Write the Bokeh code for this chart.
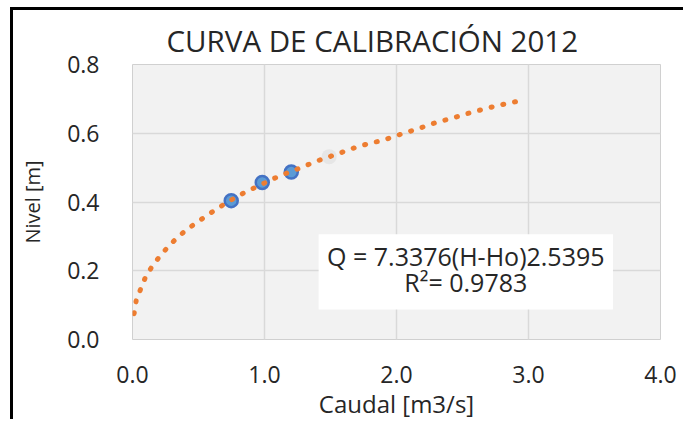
from bokeh.plotting import figure
from bokeh.models import FixedTicker, BoxAnnotation, Label, NumeralTickFormatter
from bokeh.embed import file_html
from bokeh.resources import INLINE

# Measured data (Caudal [m3/s], Nivel [m])
caudal = [0.748, 0.983, 1.203]
nivel = [0.404, 0.457, 0.487]

# faint (hidden) point visible in the picture
caudal_oculto = [1.49]
nivel_oculto = [0.532]

# Trendline
tend_caudal = [0.012, 0.028, 0.061, 0.099, 0.149, 0.207, 0.268, 0.334, 0.409, 0.485,
               0.561, 0.642, 0.718, 0.793, 0.877, 0.958, 1.039, 1.122, 1.21, 1.29,
               1.375, 1.463, 1.547, 1.632, 1.716, 1.80, 1.893, 2.0, 2.08, 2.17,
               2.25, 2.335, 2.416, 2.50, 2.59, 2.68, 2.77, 2.858, 2.95]
tend_nivel = [0.075, 0.113, 0.146, 0.182, 0.213, 0.242, 0.269, 0.295, 0.319, 0.340,
              0.360, 0.381, 0.399, 0.416, 0.433, 0.447, 0.463, 0.477, 0.490, 0.502,
              0.516, 0.528, 0.539, 0.551, 0.562, 0.571, 0.579, 0.593, 0.603, 0.614,
              0.625, 0.635, 0.643, 0.653, 0.663, 0.672, 0.681, 0.688, 0.696]

x_ticks = [0, 1, 2, 3, 4]
y_ticks = [0, 0.2, 0.4, 0.6, 0.8]

titulo = "CURVA DE CALIBRACIÓN 2012"
ecuacion = "Q = 7.3376(H-Ho)2.5395"
r2 = "R²= 0.9783"

FONT = "Open Sans"
TXT = "#262626"

p = figure(width=673, height=412, x_range=(0, 4), y_range=(0, 0.8),
           output_backend="svg", toolbar_location=None,
           min_border_left=119, min_border_right=26, min_border_top=54, min_border_bottom=81)
p.styles = {"border-left": "3px solid black", "border-top": "3px solid black",
            "margin-left": "10px", "margin-top": "7px"}

p.background_fill_color = "#f2f2f2"
p.border_fill_color = "white"
p.outline_line_color = "#d0d0d0"
p.outline_line_width = 1

p.title.text = titulo
p.title.align = "left"
p.title.offset = 34
p.title.standoff = 8
p.title.text_font = FONT
p.title.text_font_size = "29.5px"
p.title.text_font_style = "normal"
p.title.text_color = TXT

for ax in (p.xaxis[0], p.yaxis[0]):
    ax.axis_line_color = None
    ax.major_tick_line_color = None
    ax.minor_tick_line_color = None
    ax.major_label_text_font = FONT
    ax.major_label_text_font_size = "23px"
    ax.major_label_text_color = TXT
    ax.axis_label_text_font = FONT
    ax.axis_label_text_font_style = "normal"
    ax.axis_label_text_color = TXT
    ax.formatter = NumeralTickFormatter(format="0.0")

p.xaxis.ticker = FixedTicker(ticks=x_ticks)
p.yaxis.ticker = FixedTicker(ticks=y_ticks)
p.xaxis.axis_label = "Caudal [m3/s]"
p.yaxis.axis_label = "Nivel [m]"
p.xaxis.axis_label_text_font_size = "24px"
p.yaxis.axis_label_text_font_size = "20px"
p.xaxis.major_label_standoff = 20
p.yaxis.major_label_standoff = 27
p.xaxis.axis_label_standoff = 1
p.yaxis.axis_label_standoff = 18

p.grid.grid_line_color = "#d9d9d9"
p.grid.grid_line_width = 1.5

# annotation box with equation
p.add_layout(BoxAnnotation(left=1.41, right=3.64, bottom=0.087, top=0.306,
                           fill_color="white", fill_alpha=1, line_color=None))
p.add_layout(Label(x=2.525, y=0.242, text=ecuacion, text_align="center", text_baseline="middle",
                   text_font=FONT, text_font_size="25px", text_color=TXT))
p.add_layout(Label(x=2.525, y=0.167, text=r2, text_align="center", text_baseline="middle",
                   text_font=FONT, text_font_size="25px", text_color=TXT))

p.scatter(caudal_oculto, nivel_oculto, size=15, fill_color="#e6e6e6", line_color=None)
p.scatter(caudal, nivel, size=13, fill_color="#5b9bd5", line_color="#4472c4", line_width=2.5)
p.line(tend_caudal, tend_nivel, line_color="#ed7d31", line_width=5, line_dash="1 11",
       line_cap="round", line_join="round")

open("out.html", "w").write(file_html(p, INLINE))
